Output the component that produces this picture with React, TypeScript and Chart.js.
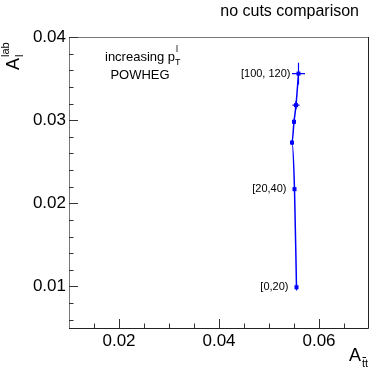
import React, { useEffect, useRef } from "react";
import { Chart, registerables } from "chart.js";

Chart.register(...registerables);

const binLabels = ["[0,20)", "[20,40)", "", "", "", "[100, 120)"];
const xValues = [0.0555, 0.0551, 0.0546, 0.055, 0.0554, 0.0559];
const yValues = [0.0099, 0.0217, 0.0273, 0.0298, 0.0318, 0.0356];
const xErrors = [0.0003, 0.0002, 0.0003, 0.0003, 0.0007, 0.0013];
const yErrors = [0.0004, 0.0003, 0.0003, 0.0003, 0.0005, 0.0013];
const xMajorTicks = [0.02, 0.04, 0.06];
const yMajorTicks = [0.01, 0.02, 0.03, 0.04];
const xMinorTicks = [0.015, 0.025, 0.03, 0.035, 0.045, 0.05, 0.055, 0.065];
const yMinorTicks = [0.006, 0.008, 0.012, 0.014, 0.016, 0.018, 0.022, 0.024, 0.026, 0.028, 0.032, 0.034, 0.036, 0.038];
const titleText = "no cuts comparison";

const FONT = "'Liberation Sans', Arial, Helvetica, sans-serif";
const BLUE = "#0000ff";

const overlayPlugin = {
  id: "overlay",
  afterDatasetsDraw(chart: any) {
    const { ctx, scales } = chart;
    const xs = scales.x;
    const ys = scales.y;
    ctx.save();
    ctx.strokeStyle = BLUE;
    ctx.fillStyle = BLUE;
    ctx.lineWidth = 1.2;
    for (let i = 0; i < xValues.length; i++) {
      const px = xs.getPixelForValue(xValues[i]);
      const py = ys.getPixelForValue(yValues[i]);
      const x0 = xs.getPixelForValue(xValues[i] - xErrors[i]);
      const x1 = xs.getPixelForValue(xValues[i] + xErrors[i]);
      const y0 = ys.getPixelForValue(yValues[i] - yErrors[i]);
      const y1 = ys.getPixelForValue(yValues[i] + yErrors[i]);
      ctx.beginPath();
      ctx.moveTo(x0, py);
      ctx.lineTo(x1, py);
      ctx.moveTo(px, y0);
      ctx.lineTo(px, y1);
      ctx.stroke();
      ctx.fillRect(px - 2, py - 2, 4, 4);
      if (binLabels[i]) {
        ctx.font = `11px ${FONT}`;
        ctx.textAlign = "right";
        ctx.textBaseline = "middle";
        ctx.fillStyle = "#000";
        ctx.fillText(binLabels[i], px - 8, py);
        ctx.fillStyle = BLUE;
      }
    }
    ctx.restore();
  },
  afterDraw(chart: any) {
    const { ctx, chartArea, scales } = chart;
    const xs = scales.x;
    const ys = scales.y;
    const { left, right, top, bottom } = chartArea;
    ctx.save();
    ctx.lineWidth = 1;
    ctx.strokeStyle = "#777";
    ctx.beginPath();
    ctx.moveTo(left + 0.5, bottom);
    ctx.lineTo(left + 0.5, top + 0.5);
    ctx.lineTo(right, top + 0.5);
    ctx.stroke();
    ctx.strokeStyle = "#222";
    ctx.beginPath();
    ctx.moveTo(left, bottom + 0.5);
    ctx.lineTo(right - 0.5, bottom + 0.5);
    ctx.lineTo(right - 0.5, top);
    ctx.stroke();
    // ticks
    ctx.strokeStyle = "#333";
    ctx.lineWidth = 1;
    ctx.beginPath();
    const xAll = xMajorTicks.map((v) => [v, 9]).concat(xMinorTicks.map((v) => [v, 4.5]));
    for (const [v, len] of xAll) {
      const px = Math.round(xs.getPixelForValue(v)) + 0.5;
      ctx.moveTo(px, bottom);
      ctx.lineTo(px, bottom - len);
    }
    const yAll = yMajorTicks.map((v) => [v, 9]).concat(yMinorTicks.map((v) => [v, 4.5]));
    for (const [v, len] of yAll) {
      const py = Math.round(ys.getPixelForValue(v)) + 0.5;
      ctx.moveTo(left, py);
      ctx.lineTo(left + len, py);
    }
    ctx.stroke();
    // title
    ctx.fillStyle = "#000";
    ctx.font = `16px ${FONT}`;
    ctx.textAlign = "right";
    ctx.textBaseline = "middle";
    ctx.fillText(titleText, 359, 12);
    // annotation
    ctx.font = `13px ${FONT}`;
    ctx.textAlign = "left";
    ctx.fillText("increasing p", 105, 57);
    const w = ctx.measureText("increasing p").width;
    ctx.font = `9px ${FONT}`;
    ctx.fillText("l", 105 + w + 1, 50);
    ctx.fillText("T", 105 + w, 63);
    ctx.font = `13px ${FONT}`;
    ctx.textAlign = "center";
    ctx.fillText("POWHEG", 140, 75);
    // x axis title
    ctx.textAlign = "left";
    ctx.font = `18px ${FONT}`;
    ctx.fillText("A", 349, 356);
    ctx.font = `11px ${FONT}`;
    ctx.fillText("tt", 362, 364);
    ctx.lineWidth = 1;
    ctx.strokeStyle = "#000";
    ctx.beginPath();
    ctx.moveTo(362.5, 357.5);
    ctx.lineTo(366, 357.5);
    ctx.stroke();
    // y axis title (rotated)
    ctx.save();
    ctx.translate(14, 70);
    ctx.rotate(-Math.PI / 2);
    ctx.textAlign = "left";
    ctx.font = `18px ${FONT}`;
    ctx.fillText("A", 0, 0);
    const aw = ctx.measureText("A").width;
    ctx.font = `11px ${FONT}`;
    ctx.fillText("l", aw + 1, 6);
    ctx.fillText("lab", aw + 1, -8);
    ctx.restore();
    ctx.restore();
  },
};

export default function App() {
  const ref = useRef<HTMLCanvasElement>(null);
  useEffect(() => {
    document.body.style.margin = "0";
    const canvas = ref.current!;
    const chart = new Chart(canvas, {
      type: "scatter",
      data: {
        datasets: [
          {
            data: xValues.map((x, i) => ({ x, y: yValues[i] })),
            showLine: true,
            borderColor: BLUE,
            borderWidth: 1.5,
            pointRadius: 0,
            tension: 0.4,
            cubicInterpolationMode: "monotone",
          } as any,
        ],
      },
      options: {
        responsive: false,
        animation: false,
        events: [],
        layout: { padding: { top: 37, right: 20, left: 0, bottom: 0 } },
        plugins: { legend: { display: false }, tooltip: { enabled: false }, title: { display: false } },
        scales: {
          x: {
            type: "linear",
            min: 0.01,
            max: 0.07,
            grid: { display: false, drawTicks: false },
            border: { display: false },
            afterBuildTicks: (s: any) => {
              s.ticks = xMajorTicks.map((v) => ({ value: v }));
            },
            afterFit: (s: any) => {
              s.height = 45;
            },
            ticks: {
              padding: 3,
              color: "#000",
              font: { family: FONT, size: 17 },
              maxRotation: 0,
              callback: (v: any) => Number(v).toFixed(2),
            },
          },
          y: {
            type: "linear",
            min: 0.005,
            max: 0.04,
            grid: { display: false, drawTicks: false },
            border: { display: false },
            afterBuildTicks: (s: any) => {
              s.ticks = yMajorTicks.map((v) => ({ value: v }));
            },
            afterFit: (s: any) => {
              s.width = 69;
            },
            ticks: {
              padding: 3,
              color: "#000",
              font: { family: FONT, size: 17 },
              callback: (v: any) => Number(v).toFixed(2),
            },
          },
        },
      },
      plugins: [overlayPlugin],
    });
    return () => chart.destroy();
  }, []);
  return (
    <div style={{ width: 389, height: 373, background: "#fff" }}>
      <canvas ref={ref} width={389} height={373} style={{ display: "block" }} />
    </div>
  );
}
